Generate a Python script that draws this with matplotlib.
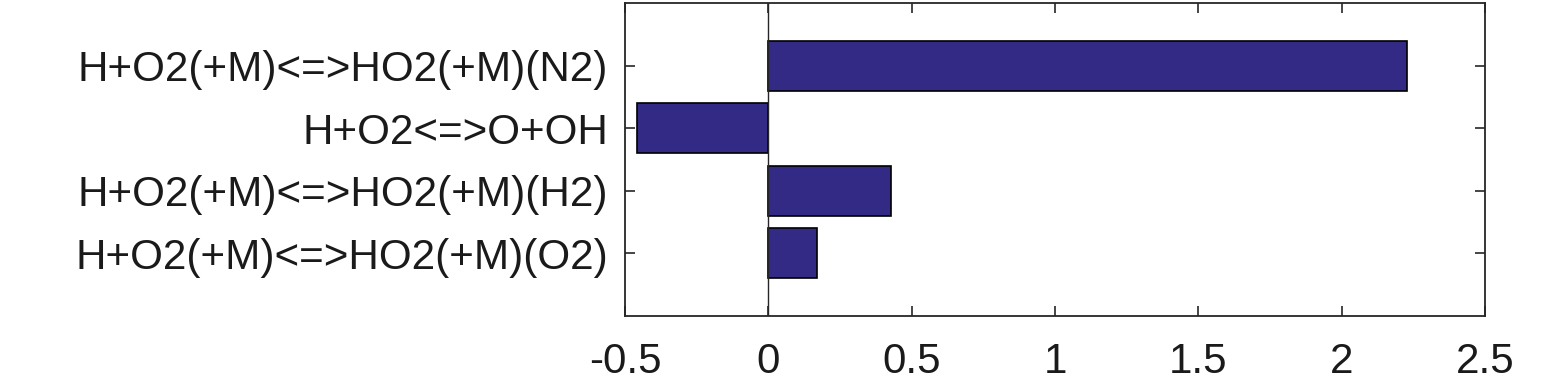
import matplotlib
matplotlib.use("Agg")
import matplotlib.pyplot as plt

plt.rcParams["font.family"] = ["Liberation Sans", "DejaVu Sans"]

# bottom -> top
reactions = ["H+O2(+M)<=>HO2(+M)(O2)", "H+O2(+M)<=>HO2(+M)(H2)",
             "H+O2<=>O+OH", "H+O2(+M)<=>HO2(+M)(N2)"]
sensitivity = [0.171, 0.427, -0.458, 2.227]
xticks = [-0.5, 0, 0.5, 1, 1.5, 2, 2.5]

AX_COLOR = "#262626"

fig = plt.figure(figsize=(15.63, 3.89), dpi=100)
ax = fig.add_axes([625 / 1563, 1 - 316 / 389, 860 / 1563, 313 / 389])

pos = list(range(1, len(reactions) + 1))
ax.barh(pos, sensitivity, height=0.8, color="#332a86",
        edgecolor="black", linewidth=1.2, zorder=2)
ax.axvline(0, color=AX_COLOR, linewidth=1.0, zorder=3)

ax.set_xlim(-0.5, 2.5)
ax.set_ylim(0, 5)
ax.set_xticks(xticks)
ax.set_xticklabels([f"{t:g}" for t in xticks])
ax.set_yticks(pos)
ax.set_yticklabels(reactions)

ax.tick_params(axis="both", direction="in", length=7, width=1.2,
               colors=AX_COLOR, labelcolor="#1a1a1a", labelsize=30.3,
               top=True, right=True)
ax.tick_params(axis="x", pad=19)
ax.tick_params(axis="y", pad=12)
for sp in ax.spines.values():
    sp.set_color(AX_COLOR)
    sp.set_linewidth(1.3)

fig.savefig("out.png", dpi=100)
